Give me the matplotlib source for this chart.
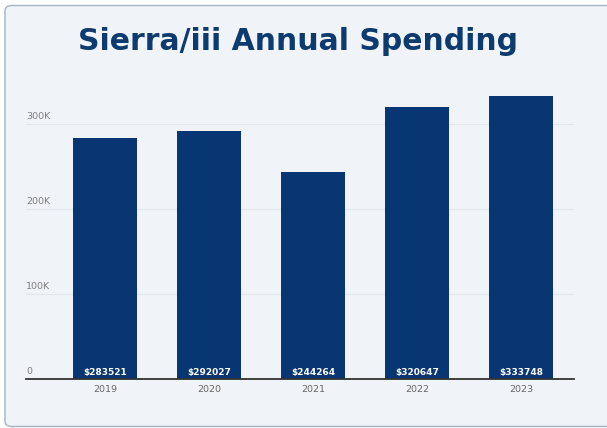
import matplotlib.pyplot as plt
from matplotlib.patches import FancyBboxPatch

years = ['2019', '2020', '2021', '2022', '2023']
spending = [283521, 292027, 244264, 320647, 333748]
y_ticks = [0, 100000, 200000, 300000]
y_tick_labels = ['0', '100K', '200K', '300K']

navy = '#073672'
bg = '#f0f4f8'
W, H = 607, 428

fig = plt.figure(figsize=(W / 100, H / 100), dpi=100)
fig.patch.set_facecolor('white')

# card background with rounded corners, kept behind the axes
card = FancyBboxPatch((5 / W, 1.5 / H), 1.2, 421 / H,
                      boxstyle='round,pad=0,rounding_size=0.012',
                      transform=fig.transFigure, facecolor=bg,
                      edgecolor='#a3b3c6', linewidth=1.0, zorder=-10)
fig.patches.append(card)

fig.text(298 / W, 1 - 50.5 / H, 'Sierra/iii Annual Spending',
         ha='center', va='baseline', fontsize=21.5, fontweight='heavy',
         color='#0d3a6f', family='DejaVu Sans')

# axes box: x from 26 to 574 px, zero line at 379 px, 0.8485 px per 1000
ax = fig.add_axes([26 / W, 1 - 379 / H, 548 / W, 297 / H])
ax.set_facecolor('none')

x = range(len(years))
bars = ax.bar(x, spending, width=0.615, color=navy, zorder=3)

ax.set_xlim(-0.76, 4.51)
ax.set_ylim(0, 350000)
ax.set_yticks(y_ticks)
ax.set_yticklabels([])
ax.tick_params(axis='y', length=0)
ax.grid(axis='y', color='#e1e6ec', linewidth=0.8, zorder=0)

# y labels sit just above their grid lines
for val, lab in zip(y_ticks, y_tick_labels):
    ax.text(0, val + 3500, lab, transform=ax.get_yaxis_transform(),
            ha='left', va='bottom', fontsize=6.8, color='#7d7d7d')

ax.set_xticks(list(x))
ax.set_xticklabels(years, fontsize=6.8, color='#666666')
ax.tick_params(axis='x', length=0, pad=4.5)

for b, val in zip(bars, spending):
    ax.text(b.get_x() + b.get_width() / 2, 2800, f'${val}',
            ha='center', va='bottom', fontsize=6.5, fontweight='bold',
            color='white', zorder=4)

for side in ['top', 'right', 'left']:
    ax.spines[side].set_visible(False)
ax.spines['bottom'].set_color('#333333')
ax.spines['bottom'].set_linewidth(1.3)
ax.spines['bottom'].set_zorder(5)

fig.savefig('out.png', dpi=100, facecolor=fig.get_facecolor())
